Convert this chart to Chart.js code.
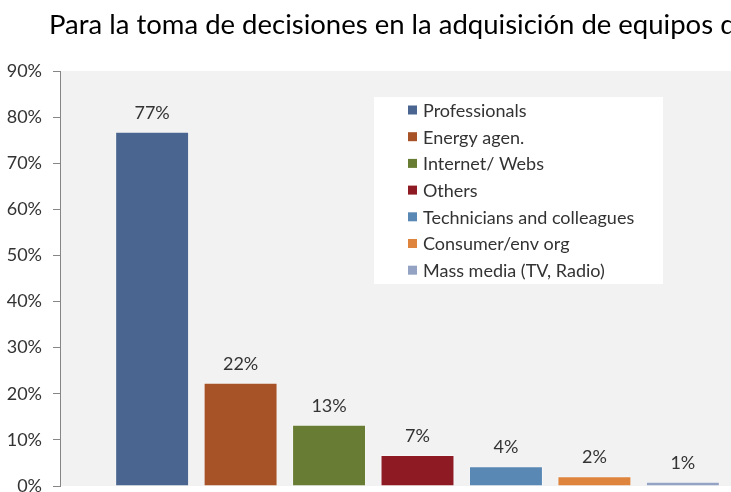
<!DOCTYPE html>
<html>
<head>
<meta charset="utf-8">
<script src="https://cdn.jsdelivr.net/npm/chart.js@4.4.1/dist/chart.umd.min.js"></script>
<style>
  html, body { margin: 0; padding: 0; background: #fff; overflow: hidden; }
  #wrap { width: 800px; height: 520px; }
</style>
</head>
<body>
<div id="wrap"><canvas id="c" width="800" height="520"></canvas></div>
<script>
const titleText = 'Para la toma de decisiones en la adquisición de equipos de';
const sources = ['Professionals', 'Energy agen.', 'Internet/ Webs', 'Others',
  'Technicians and colleagues', 'Consumer/env org', 'Mass media (TV, Radio)'];
const shares = [76.8, 22.4, 13.3, 6.7, 4.3, 2.1, 0.9];
const barColors = ['#4A6690', '#A85227', '#687D33', '#8E1B23', '#5A88B5', '#DF843D', '#94A3C4'];
const yTicks = [0, 10, 20, 30, 40, 50, 60, 70, 80, 90];

const FONT = 'Lato';
const textColor = '#333333';

// title, drawn at top-left like the original
const titlePlugin = {
  id: 'titleLeft',
  afterDraw(chart) {
    const ctx = chart.ctx;
    ctx.save();
    ctx.fillStyle = '#000';
    ctx.font = '27.5px ' + FONT;
    ctx.textBaseline = 'alphabetic';
    ctx.textAlign = 'left';
    ctx.fillText(titleText, 49, 34);
    ctx.restore();
  }
};

// value labels above each bar
const valueLabels = {
  id: 'valueLabels',
  afterDatasetsDraw(chart) {
    const ctx = chart.ctx;
    ctx.save();
    ctx.fillStyle = textColor;
    ctx.font = '18px ' + FONT;
    ctx.textAlign = 'center';
    ctx.textBaseline = 'alphabetic';
    chart.data.datasets.forEach((ds, i) => {
      const bar = chart.getDatasetMeta(i).data[0];
      ctx.fillText(Math.round(ds.data[0]) + '%', bar.x, bar.y - 13);
    });
    ctx.restore();
  }
};

// legend box inside the plot area
const boxLegend = {
  id: 'boxLegend',
  afterDraw(chart) {
    const ctx = chart.ctx;
    const a = chart.chartArea;
    const bx = a.left + 314, by = a.top + 26, bw = 289, bh = 187;
    ctx.save();
    ctx.fillStyle = '#fff';
    ctx.fillRect(bx, by, bw, bh);
    ctx.font = '18px ' + FONT;
    ctx.textBaseline = 'middle';
    ctx.textAlign = 'left';
    chart.data.datasets.forEach((ds, i) => {
      const cy = by + 13 + i * 26.7;
      ctx.fillStyle = ds.backgroundColor;
      ctx.fillRect(bx + 34, cy - 4.5, 9, 9);
      ctx.fillStyle = textColor;
      ctx.fillText(ds.label, bx + 49, cy + 1);
    });
    ctx.restore();
  }
};

// grey plot background
const plotBg = {
  id: 'plotBg',
  beforeDraw(chart) {
    const a = chart.chartArea;
    const ctx = chart.ctx;
    ctx.save();
    ctx.fillStyle = '#F2F2F2';
    ctx.fillRect(a.left, a.top, a.right - a.left, a.bottom - a.top);
    ctx.restore();
  }
};

const datasets = sources.map((name, i) => ({
  label: name,
  data: [shares[i]],
  backgroundColor: barColors[i],
  borderColor: 'rgba(255,255,255,0.35)',
  borderWidth: 1,
  categoryPercentage: 0.866,
  barPercentage: 0.836
}));

new Chart(document.getElementById('c'), {
  type: 'bar',
  data: { labels: [''], datasets: datasets },
  options: {
    responsive: false,
    animation: false,
    layout: { padding: { top: 71, right: 25, bottom: 34, left: 0 } },
    plugins: {
      legend: { display: false },
      title: { display: false },
      tooltip: { enabled: false }
    },
    scales: {
      x: { display: false },
      y: {
        min: 0,
        max: 90,
        afterFit(scale) { scale.width = 60; },
        afterBuildTicks(scale) { scale.ticks = yTicks.map(v => ({ value: v })); },
        ticks: {
          padding: 11,
          color: textColor,
          font: { family: FONT, size: 18 },
          callback: v => v + '%'
        },
        grid: {
          drawOnChartArea: false,
          tickLength: 7,
          color: '#868686'
        },
        border: { color: '#868686' }
      }
    }
  },
  plugins: [plotBg, valueLabels, boxLegend, titlePlugin]
});
</script>
</body>
</html>
